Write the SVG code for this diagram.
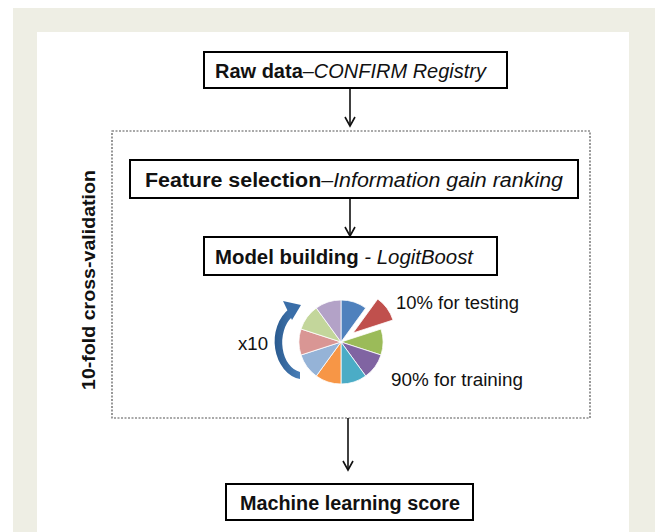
<svg xmlns="http://www.w3.org/2000/svg" width="655" height="532" viewBox="0 0 655 532">
<style>
.box{fill:#fff;stroke:#000;stroke-width:2}
.t{font-family:"Liberation Sans",Arial,sans-serif;fill:#111}
.b{font-weight:bold}
.i{font-style:italic;font-weight:normal}
.c{stroke:#111;stroke-width:1.6;fill:none}
.s{stroke:#fff;stroke-width:0.8}
</style>
<defs>
<marker id="ah" viewBox="0 0 12 12" refX="10" refY="6" markerWidth="12" markerHeight="12" markerUnits="userSpaceOnUse" orient="auto">
<path d="M1,1 L10,6 L1,11" fill="none" stroke="#111" stroke-width="1.6"/>
</marker>
<linearGradient id="ag" x1="0" y1="0" x2="1" y2="0">
<stop offset="0" stop-color="#2a5a8f"/>
<stop offset="1" stop-color="#4a7fb8"/>
</linearGradient>
</defs>
<rect x="13" y="8" width="642" height="524" fill="#eeeee4"/>
<rect x="37" y="32" width="592" height="500" fill="#fff"/>
<g id="cv-frame">
<rect x="112" y="131" width="478" height="287" fill="none" stroke="#555" stroke-width="1.2" stroke-dasharray="2,1.5"/>
<text class="t b" font-size="19" transform="translate(95,280) rotate(-90)" text-anchor="middle" textLength="220" lengthAdjust="spacingAndGlyphs">10-fold cross-validation</text>
</g>
<g id="connectors">
<line class="c" x1="350" y1="88" x2="350" y2="126" marker-end="url(#ah)"/>
<line class="c" x1="350" y1="198" x2="350" y2="236" marker-end="url(#ah)"/>
<line class="c" x1="348" y1="418" x2="348" y2="470" marker-end="url(#ah)"/>
</g>
<g id="raw">
<rect class="box" x="204" y="52" width="303" height="36"/>
<text class="t b" font-size="20" x="215" y="78" textLength="271" lengthAdjust="spacingAndGlyphs">Raw data<tspan class="i">–CONFIRM Registry</tspan></text>
</g>
<g id="feature">
<rect class="box" x="130" y="160" width="448" height="38"/>
<text class="t b" font-size="20" x="145" y="187" textLength="418" lengthAdjust="spacingAndGlyphs">Feature selection<tspan class="i">–Information gain ranking</tspan></text>
</g>
<g id="model">
<rect class="box" x="204" y="237" width="293" height="38"/>
<text class="t b" font-size="20" x="215" y="264" textLength="258" lengthAdjust="spacingAndGlyphs">Model building <tspan class="i">- LogitBoost</tspan></text>
</g>
<g id="pie">
<path class="s" fill="#4F81BD" d="M341,342 L341,300 A42,42 0 0 1 365.7,308 Z"/>
<path class="s" fill="#C0504D" transform="translate(12,-9)" d="M341,342 L365.7,308 A42,42 0 0 1 381,329 Z"/>
<path class="s" fill="#9BBB59" d="M341,342 L381,329 A42,42 0 0 1 381,355 Z"/>
<path class="s" fill="#8064A2" d="M341,342 L381,355 A42,42 0 0 1 365.7,376 Z"/>
<path class="s" fill="#4BACC6" d="M341,342 L365.7,376 A42,42 0 0 1 341,384 Z"/>
<path class="s" fill="#F79646" d="M341,342 L341,384 A42,42 0 0 1 316.3,376 Z"/>
<path class="s" fill="#95B3D7" d="M341,342 L316.3,376 A42,42 0 0 1 301,355 Z"/>
<path class="s" fill="#D99694" d="M341,342 L301,355 A42,42 0 0 1 301,329 Z"/>
<path class="s" fill="#C3D69B" d="M341,342 L301,329 A42,42 0 0 1 316.3,308 Z"/>
<path class="s" fill="#B3A2C7" d="M341,342 L316.3,308 A42,42 0 0 1 341,300 Z"/>
</g>
<g id="loop-arrow">
<path fill="url(#ag)" d="M300,379 A30,38 0 0 1 289,309 L292,317 A21,30 0 0 0 300,372 Z"/>
<path fill="#3a6ea8" d="M283,301 L301,305 L292,320 Z"/>
</g>
<g id="labels">
<text class="t" font-size="17.5" x="238" y="350" textLength="30" lengthAdjust="spacingAndGlyphs">x10</text>
<text class="t" font-size="17.5" x="396" y="309" textLength="123" lengthAdjust="spacingAndGlyphs">10% for testing</text>
<text class="t" font-size="17.5" x="391" y="386" textLength="132" lengthAdjust="spacingAndGlyphs">90% for training</text>
</g>
<g id="score">
<rect class="box" x="226" y="484" width="247" height="36"/>
<text class="t b" font-size="20" x="240" y="510" textLength="220" lengthAdjust="spacingAndGlyphs">Machine learning score</text>
</g>
</svg>
